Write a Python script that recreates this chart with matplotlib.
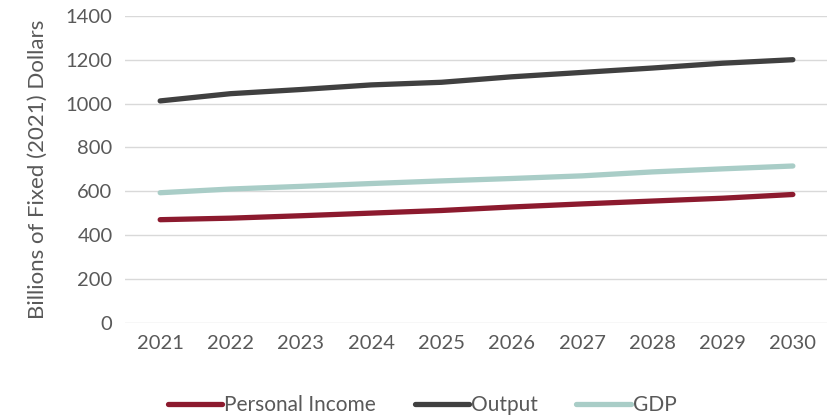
import matplotlib.pyplot as plt

# Projected values, billions of fixed (2021) dollars
years = ["2021", "2022", "2023", "2024", "2025", "2026", "2027", "2028", "2029", "2030"]
personal_income = [470, 477, 488, 500, 512, 528, 542, 555, 568, 585]
output = [1012, 1045, 1064, 1085, 1097, 1122, 1142, 1162, 1184, 1200]
gdp = [593, 610, 622, 635, 647, 658, 670, 688, 702, 715]

plt.rcParams['font.family'] = ['Lato', 'DejaVu Sans']
text_color = "#595959"

fig = plt.figure(figsize=(8.28, 4.18), dpi=100)
ax = fig.add_axes([0.151, 0.228, 0.849, 0.734])

x = range(len(years))
ax.plot(x, personal_income, color="#8C1A2E", lw=3.8, solid_capstyle="round", label="Personal Income")
ax.plot(x, output, color="#404040", lw=3.8, solid_capstyle="round", label="Output")
ax.plot(x, gdp, color="#A9CDC7", lw=3.8, solid_capstyle="round", label="GDP")

ax.set_xlim(-0.5, len(years) - 0.5)
ax.set_ylim(0, 1400)
ax.set_yticks(range(0, 1401, 200))
ax.set_xticks(list(x))
ax.set_xticklabels(years)
ax.grid(axis="y", color="#D9D9D9", lw=1)
ax.set_axisbelow(True)
for s in ax.spines.values():
    s.set_visible(False)
ax.tick_params(length=0, labelsize=14.5, colors=text_color)
ax.tick_params(axis="y", pad=9)
ax.tick_params(axis="x", pad=9)
ax.set_ylabel("Billions of Fixed (2021) Dollars", fontsize=16, color=text_color, labelpad=13)

fig.legend(loc="center", bbox_to_anchor=(0.51, 0.03), ncol=3, frameon=False,
           fontsize=15, handlelength=2.6, handletextpad=0.1, columnspacing=1.85,
           labelcolor=text_color)

fig.savefig("out.png", dpi=100)
